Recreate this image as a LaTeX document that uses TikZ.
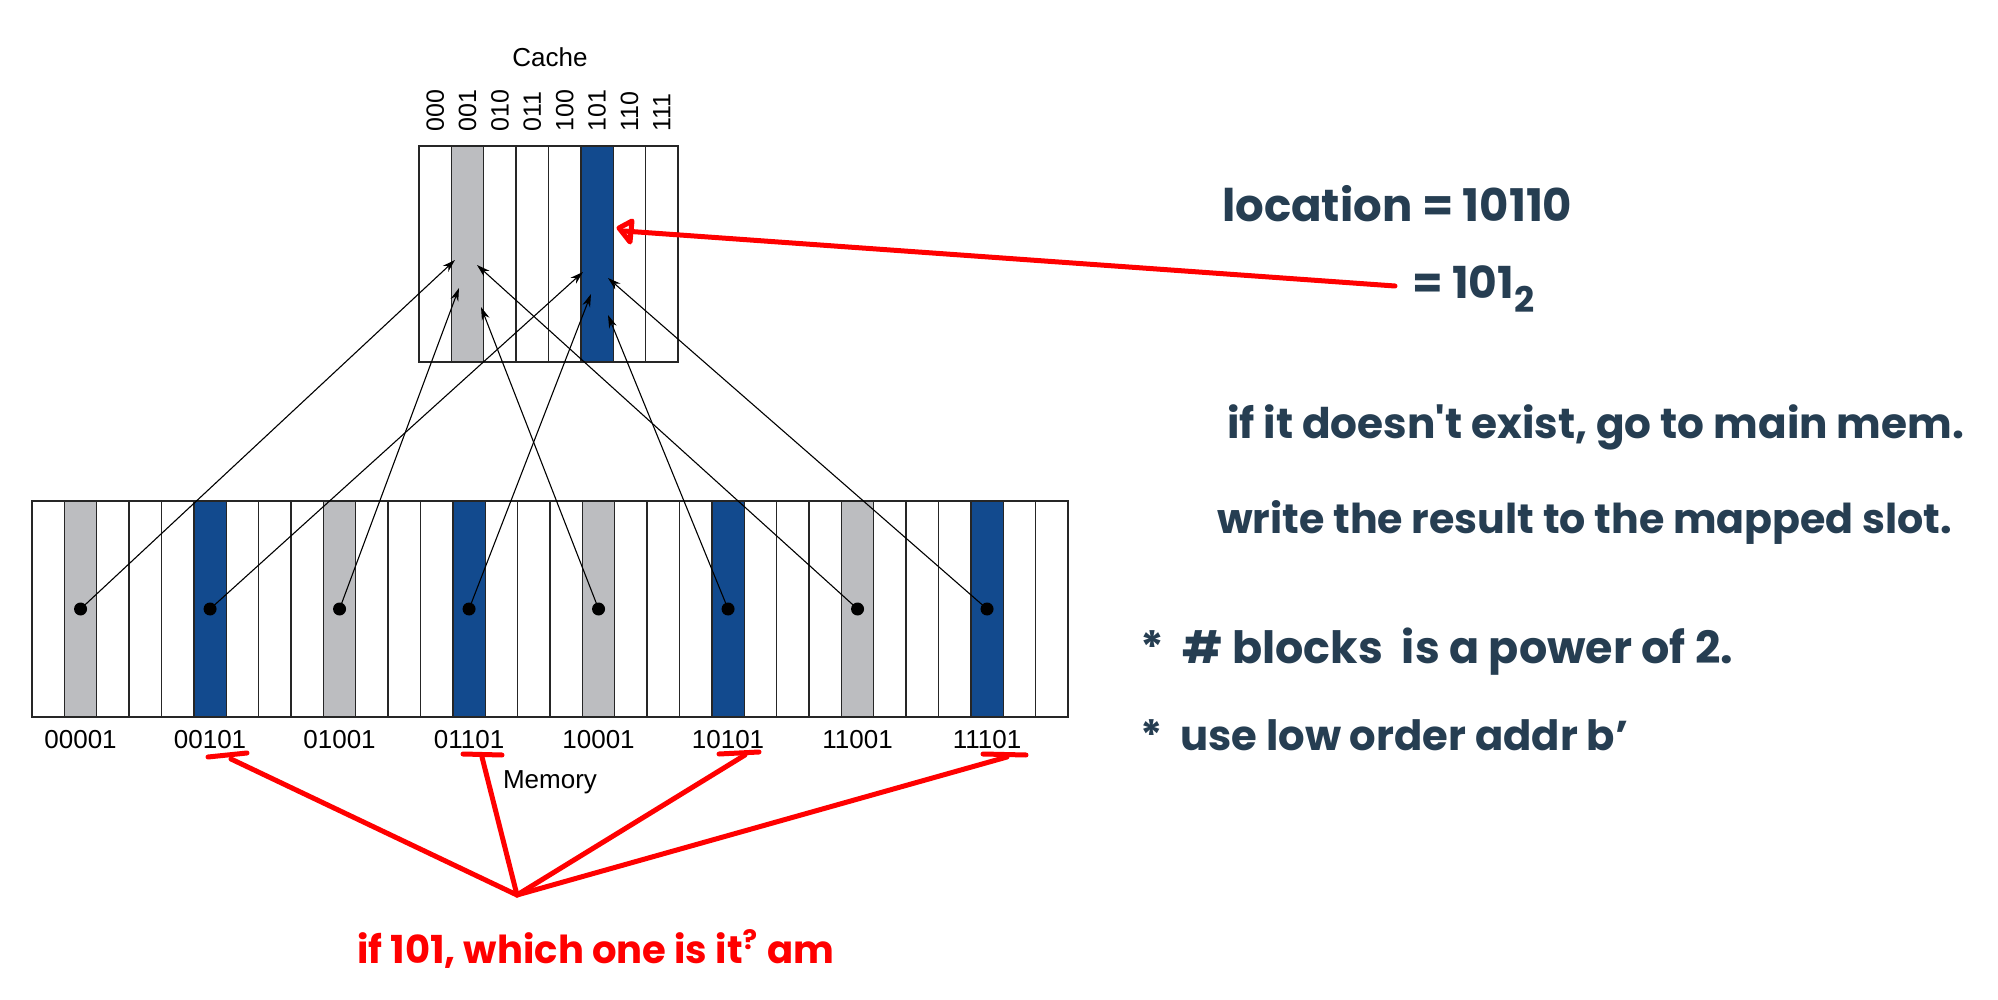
\documentclass[tikz,border=0pt]{standalone}
\usepackage{fontspec}
\setmainfont{Liberation Sans}
\newfontfamily\hand{Poppins}
\usetikzlibrary{arrows.meta}
\definecolor{cblue}{RGB}{18,74,142}
\definecolor{cgray}{RGB}{188,189,192}
\definecolor{slate}{RGB}{38,62,82}
\definecolor{pen}{RGB}{255,0,0}
\begin{document}
\begin{tikzpicture}[x=1pt,y=-1pt,
  cellbox/.style={draw=black!85, line width=1.4pt},
  lbl/.style={font=\fontsize{26}{30}\selectfont, inner sep=0pt},
  rlbl/.style={font=\fontsize{25}{30}\selectfont, inner sep=0pt, rotate=90, anchor=west},
  dotnode/.style={circle, fill=black, inner sep=0pt, minimum size=13pt},
  link/.style={line width=1.1pt, -{Stealth[length=13pt,width=8pt]}},
  redpen/.style={draw=pen, line width=5pt, line cap=round, line join=round},
  note/.style={text=slate, inner sep=0pt, anchor=west, font=\hand\bfseries},
  rnote/.style={text=pen, inner sep=0pt, anchor=west, font=\hand\bfseries},
]
\useasboundingbox[fill=white] (0,0) rectangle (1998,1000);

% ---- cache ----
\fill[cgray] ({419+32.375*1},146) rectangle ++(32.375,216);
\fill[cblue] ({419+32.375*5},146) rectangle ++(32.375,216);
\foreach \i in {0,...,7} \draw[cellbox] ({419+32.375*\i},146) rectangle ++(32.375,216);
\node[lbl, anchor=base] (cachetitle) at (550,67) {Cache};
\foreach \lab [count=\j from 0] in {000,001,010,011,100,101,110,111}
  \node[rlbl] (cl\j) at ({419+32.375*(\j+0.5)},132) {\lab};

% ---- memory ----
\foreach \i in {1,9,17,25} \fill[cgray] ({32+32.375*\i},501) rectangle ++(32.375,216);
\foreach \i in {5,13,21,29} \fill[cblue] ({32+32.375*\i},501) rectangle ++(32.375,216);
\foreach \i in {0,...,31} \draw[cellbox] ({32+32.375*\i},501) rectangle ++(32.375,216);
\node[lbl, anchor=base] (memtitle) at (550,788) {Memory};

\foreach \lab [count=\j] in {00001,00101,01001,01101,10001,10101,11001,11101} {
  \pgfmathsetmacro\xx{32+32.375*(4*\j-2.5)}
  \node[dotnode] (m\j) at (\xx,609) {};
  \node[lbl] (ml\j) at (\xx,740) {\lab};
}

% arrow targets in cache
\coordinate (t1) at (455,260);
\coordinate (t2) at (583,272);
\coordinate (t3) at (459,288);
\coordinate (t4) at (591,294);
\coordinate (t5) at (481,307);
\coordinate (t6) at (608,315);
\coordinate (t7) at (477,265);
\coordinate (t8) at (608,278);
\foreach \j in {1,...,8} \draw[link] (m\j.center) -- (t\j);

% ---- red annotations ----
\coordinate (rstart) at (1395,286);
\coordinate (rtip) at (624,231);
\draw[redpen] (rstart) -- (rtip);
\draw[redpen] (632,221) -- (619,228) -- (630,242) -- cycle;

\coordinate (conv) at (517,895);
\coordinate (u1a) at (208,757); \coordinate (u1b) at (247,753); \coordinate (u1m) at (231,759);
\coordinate (u2a) at (463,754); \coordinate (u2b) at (502,755); \coordinate (u2m) at (482,757);
\coordinate (u3a) at (719,754); \coordinate (u3b) at (759,752); \coordinate (u3m) at (745,755);
\coordinate (u4a) at (983,754); \coordinate (u4b) at (1026,755); \coordinate (u4m) at (1007,757);
\foreach \k in {1,...,4} {
  \draw[redpen] (u\k a) -- (u\k b);
  \draw[redpen] (u\k m) -- (conv);
}
\node[rnote] (question) at (357,949) {\resizebox{477pt}{!}{if 101, which one is it\textsuperscript{?} am}};

% ---- handwritten notes ----
\node[note] (loc) at (1222,204) {\resizebox{350pt}{!}{location = 10110}};
\node[note] (loc2) at (1412,289) {\resizebox{122pt}{!}{= 101\raisebox{-0.3em}{\footnotesize 2}}};
\node[note] (miss) at (1227,427) {\resizebox{737pt}{!}{if it doesn't exist, go to main mem.}};
\node[note] (write) at (1217,522) {\resizebox{735pt}{!}{write the result to the mapped slot.}};
\node[note] (pow) at (1140,652) {\resizebox{593pt}{!}{*\ \ \# blocks\ \ is a power of 2.}};
\node[note] (low) at (1140,735) {\resizebox{488pt}{!}{*\ \ use low order addr b\textquoteright}};
\end{tikzpicture}
\end{document}
